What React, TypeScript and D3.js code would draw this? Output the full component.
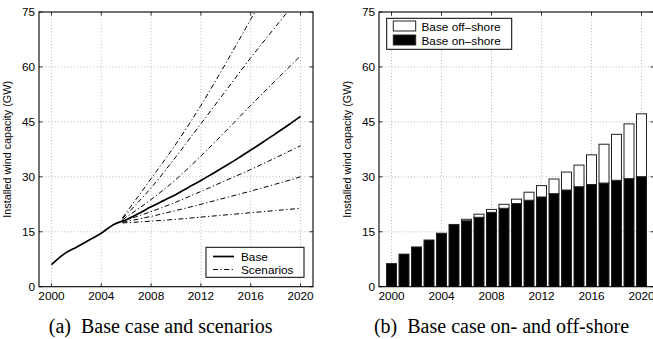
import React from "react";
import * as d3 from "d3";

// Installed wind capacity, base case (GW), 2000–2020
const years = d3.range(2000, 2021);
const baseCase = [6.0, 8.9, 10.8, 12.7, 14.6, 17.0, 18.3, 20.0, 21.8, 23.5, 25.2, 27.1, 29.0, 31.0, 33.0, 35.1, 37.3, 39.5, 41.8, 44.1, 46.5];
const onshore = [6.3, 8.9, 10.85, 12.75, 14.6, 17.0, 18.0, 18.95, 20.3, 21.4, 22.7, 23.6, 24.5, 25.4, 26.4, 27.3, 27.9, 28.3, 29.05, 29.5, 30.05];
const offshore = [0, 0, 0, 0, 0, 0, 0.4, 0.85, 0.8, 1.1, 1.2, 2.2, 3.1, 4.0, 4.9, 5.9, 8.1, 10.6, 12.55, 14.95, 17.15];

// Scenario trajectories branching from the base case
const scenarioYears = [2005.7, 2008, 2010, 2012, 2014, 2016, 2018, 2020];
const scenario1 = [18.8, 29.5, 39.0, 49.5, 61.0, 73.0, 85.0, 97.0];
const scenario2 = [18.6, 27.0, 35.5, 44.5, 53.5, 62.5, 71.0, 79.5];
const scenario3 = [18.3, 23.8, 29.3, 35.7, 42.5, 49.5, 56.3, 63.0];
const scenario4 = [17.9, 20.5, 23.1, 26.0, 29.0, 32.0, 35.2, 38.5];
const scenario5 = [17.6, 19.2, 20.8, 22.5, 24.3, 26.1, 28.0, 30.0];
const scenario6 = [17.4, 17.9, 18.4, 19.0, 19.6, 20.2, 20.8, 21.4];
const scenarios = [scenario1, scenario2, scenario3, scenario4, scenario5, scenario6];

const xTicks = [2000, 2004, 2008, 2012, 2016, 2020];
const yTicks = [0, 15, 30, 45, 60, 75];

const yLabel = "Installed wind capacity (GW)";
const captionA = "(a)\u2002Base case and scenarios";
const captionB = "(b)\u2002Base case on- and off-shore";
const legendA = ["Base", "Scenarios"];
const legendB = ["Base off\u2013shore", "Base on\u2013shore"];

const W = 653;
const H = 339;
const top = 12;
const bottom = 286.7;
const sans = "'Liberation Sans', Arial, Helvetica, sans-serif";
const serif = "'Liberation Serif', 'Times New Roman', serif";

function Frame({ x, y, clipId }: { x: d3.ScaleLinear<number, number>; y: d3.ScaleLinear<number, number>; clipId: string }) {
  const [x0, x1] = x.range();
  const tick = 3.5;
  return (
    <g>
      {/* tick marks on all four sides */}
      {xTicks.map((t) => (
        <g key={"xt" + t}>
          <line x1={x(t)} x2={x(t)} y1={bottom} y2={bottom - tick} stroke="#000" strokeWidth={0.8} />
          <line x1={x(t)} x2={x(t)} y1={top} y2={top + tick} stroke="#000" strokeWidth={0.8} />
          <text x={x(t)} y={bottom + 13.5} textAnchor="middle" fontFamily={sans} fontSize={11.8}>
            {t}
          </text>
        </g>
      ))}
      {yTicks.map((t) => (
        <g key={"yt" + t}>
          <line x1={x0} x2={x0 + tick} y1={y(t)} y2={y(t)} stroke="#000" strokeWidth={0.8} />
          <line x1={x1} x2={x1 - tick} y1={y(t)} y2={y(t)} stroke="#000" strokeWidth={0.8} />
          <text x={x0 - 4} y={y(t) + 4} textAnchor="end" fontFamily={sans} fontSize={11.8}>
            {t}
          </text>
        </g>
      ))}
      <rect x={x0} y={top} width={x1 - x0} height={bottom - top} fill="none" stroke="#000" strokeWidth={1.1} />
      <text
        transform={`translate(${x0 - 28},${(top + bottom) / 2}) rotate(-90)`}
        textAnchor="middle"
        fontFamily={sans}
        fontSize={10.8}
      >
        {yLabel}
      </text>
      <clipPath id={clipId}>
        <rect x={x0} y={top} width={x1 - x0} height={bottom - top} />
      </clipPath>
    </g>
  );
}

function Grid({ x, y }: { x: d3.ScaleLinear<number, number>; y: d3.ScaleLinear<number, number> }) {
  const [x0, x1] = x.range();
  return (
    <g stroke="#9a9a9a" strokeWidth={0.7} strokeDasharray="1 2.2">
      {xTicks.map((t) => (
        <line key={"gx" + t} x1={x(t)} x2={x(t)} y1={top} y2={bottom} />
      ))}
      {yTicks.slice(1, -1).map((t) => (
        <line key={"gy" + t} x1={x0} x2={x1} y1={y(t)} y2={y(t)} />
      ))}
    </g>
  );
}

export default function App() {
  const xA = d3.scaleLinear().domain([1999, 2021]).range([39, 313]);
  const xB = d3.scaleLinear().domain([1999, 2021]).range([379, 654]);
  const y = d3.scaleLinear().domain([0, 75]).range([bottom, top]);

  const baseLine = d3
    .line<number>()
    .x((_, i) => xA(years[i]))
    .y((d) => y(d))
    .curve(d3.curveMonotoneX);
  const scenLine = d3
    .line<number>()
    .x((_, i) => xA(scenarioYears[i]))
    .y((d) => y(d))
    .curve(d3.curveMonotoneX);

  const step = xB(2001) - xB(2000);
  const barW = step * 0.8;

  const dashDot = "5 2.5 1.2 2.5";

  return (
    <svg width={W} height={H} style={{ position: "absolute", left: 0, top: 0, background: "#fff" }}>
      {/* (a) base case and scenarios */}
      <Grid x={xA} y={y} />
      <g clipPath="url(#clipA)">
        {scenarios.map((s, k) => (
          <path key={"s" + k} d={scenLine(s) || ""} fill="none" stroke="#000" strokeWidth={1} strokeDasharray={dashDot} />
        ))}
        <path d={baseLine(baseCase) || ""} fill="none" stroke="#000" strokeWidth={1.7} />
      </g>
      <Frame x={xA} y={y} clipId="clipA" />
      <g>
        <rect x={206} y={247.3} width={98} height={30} fill="#fff" stroke="#000" strokeWidth={1} />
        <line x1={213} x2={234} y1={256.5} y2={256.5} stroke="#000" strokeWidth={1.7} />
        <line x1={213} x2={234} y1={269.5} y2={269.5} stroke="#000" strokeWidth={1} strokeDasharray={dashDot} />
        <text x={241} y={260.5} fontFamily={sans} fontSize={11.8}>
          {legendA[0]}
        </text>
        <text x={241} y={273.5} fontFamily={sans} fontSize={11.8}>
          {legendA[1]}
        </text>
      </g>

      {/* (b) base case split into on- and off-shore */}
      <Grid x={xB} y={y} />
      <g clipPath="url(#clipB)">
        {years.map((yr, i) => {
          const cx = xB(yr);
          return (
            <g key={"b" + yr}>
              <rect
                x={cx - barW / 2}
                y={y(onshore[i])}
                width={barW}
                height={y(0) - y(onshore[i])}
                fill="#000"
                stroke="#222"
                strokeWidth={1}
              />
              {offshore[i] > 0 && (
                <rect
                  x={cx - barW / 2}
                  y={y(onshore[i] + offshore[i])}
                  width={barW}
                  height={y(onshore[i]) - y(onshore[i] + offshore[i])}
                  fill="#fff"
                  stroke="#222"
                  strokeWidth={1}
                />
              )}
            </g>
          );
        })}
      </g>
      <Frame x={xB} y={y} clipId="clipB" />
      <g>
        <rect x={386.7} y={18.3} width={125} height={31} fill="#fff" stroke="#000" strokeWidth={1} />
        <rect x={393.3} y={21} width={22.4} height={10} fill="#fff" stroke="#222" strokeWidth={1} />
        <rect x={393.3} y={35} width={22.4} height={10} fill="#000" stroke="#222" strokeWidth={1} />
        <text x={421.5} y={30.5} fontFamily={sans} fontSize={11.8}>
          {legendB[0]}
        </text>
        <text x={421.5} y={44.5} fontFamily={sans} fontSize={11.8}>
          {legendB[1]}
        </text>
      </g>

      {/* captions */}
      <text x={160.7} y={333} textAnchor="middle" fontFamily={serif} fontSize={20}>
        {captionA}
      </text>
      <text x={501.5} y={333} textAnchor="middle" fontFamily={serif} fontSize={20}>
        {captionB}
      </text>
    </svg>
  );
}
